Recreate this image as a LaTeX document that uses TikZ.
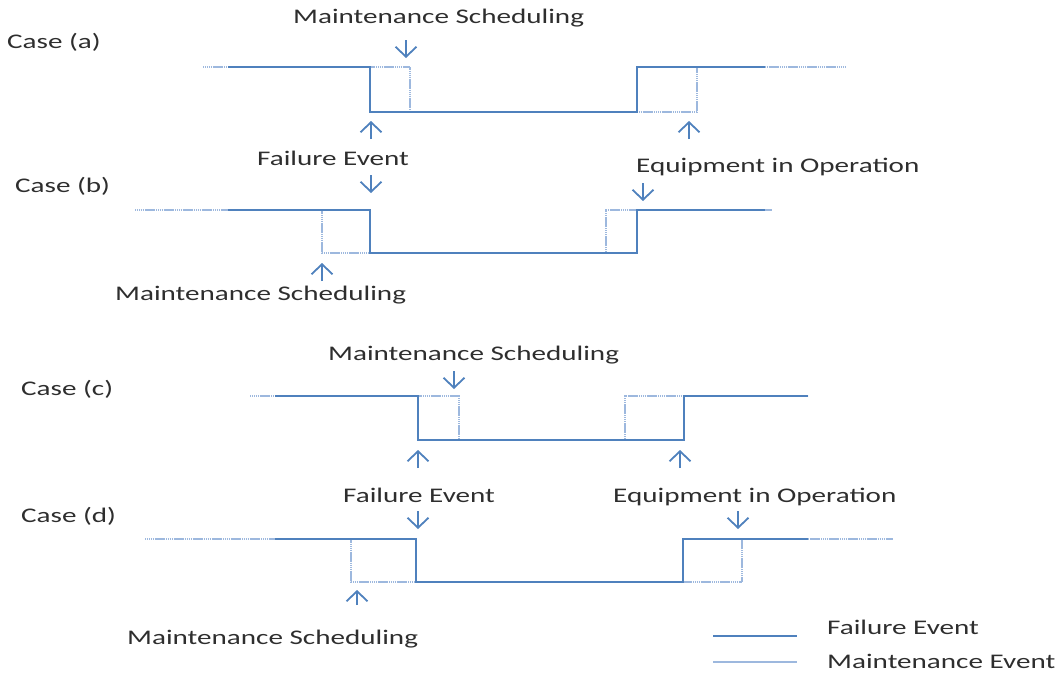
\documentclass[tikz,border=0pt]{standalone}
\usepackage{fontspec}
\setmainfont{Carlito}[FakeStretch=1.4]
\usetikzlibrary{arrows.meta}
\definecolor{failblue}{HTML}{4F81BD}
\definecolor{maintblue}{HTML}{9DB8DE}
\definecolor{txtgray}{HTML}{2E2E2E}
\tikzset{
  lbl/.style={anchor=base west, inner sep=0pt, text=txtgray,
    font=\fontsize{20.8}{24}\selectfont},
  failline/.style={draw=failblue, line width=2.6pt, line join=miter},
  maintline/.style={draw=maintblue, line width=1.9pt, dash pattern=on 1.4pt off 0.5pt},
  legmaint/.style={draw=maintblue, line width=1.9pt},
  ptr/.style={draw=failblue, line width=1.8pt,
    -{Straight Barb[length=10pt,width=21pt,line width=1.8pt]}}
}
\begin{document}
\begin{tikzpicture}[x=1pt,y=-1pt]
\useasboundingbox (0,0) rectangle (1057,675);

% ---------- Case (a) ----------
\node[lbl] (ca) at (7,48) {Case (a)};
\node[lbl] (msa) at (293,23) {Maintenance Scheduling};
\draw[maintline] (203,67) -- (410,67) -- (410,112) -- (697,112) -- (697,67) -- (845,67);
\draw[failline] (228,67) -- (370,67) -- (370,112) -- (637,112) -- (637,67) -- (765,67);
\coordinate (a1s) at (406,40); \coordinate (a1e) at (406,58);
\draw[ptr] (a1s) -- (a1e);
\coordinate (a2s) at (371,139); \coordinate (a2e) at (371,121);
\draw[ptr] (a2s) -- (a2e);
\coordinate (a3s) at (689,139); \coordinate (a3e) at (689,121);
\draw[ptr] (a3s) -- (a3e);

% labels shared by cases (a) and (b)
\node[lbl] (feab) at (257,165) {Failure Event};
\node[lbl] (eoab) at (636,172) {Equipment in Operation};
\coordinate (b1s) at (371,175); \coordinate (b1e) at (371,193);
\draw[ptr] (b1s) -- (b1e);
\coordinate (b2s) at (643,183); \coordinate (b2e) at (643,201);
\draw[ptr] (b2s) -- (b2e);

% ---------- Case (b) ----------
\node[lbl] (cb) at (15,192) {Case (b)};
\draw[maintline] (135,210) -- (322,210) -- (322,253) -- (606,253) -- (606,210) -- (772,210);
\draw[failline] (228,210) -- (370,210) -- (370,253) -- (637,253) -- (637,210) -- (765,210);
\coordinate (b3s) at (322,281); \coordinate (b3e) at (322,263);
\draw[ptr] (b3s) -- (b3e);
\node[lbl] (msb) at (115,300) {Maintenance Scheduling};

% ---------- Case (c) ----------
\node[lbl] (msc) at (328,360) {Maintenance Scheduling};
\node[lbl] (cc) at (21,395) {Case (c)};
\draw[maintline] (250,396) -- (459,396) -- (459,440) -- (625,440) -- (625,396) -- (808,396);
\draw[failline] (275,396) -- (418,396) -- (418,440) -- (684,440) -- (684,396) -- (808,396);
\coordinate (c1s) at (454,371); \coordinate (c1e) at (454,389);
\draw[ptr] (c1s) -- (c1e);
\coordinate (c2s) at (418,468); \coordinate (c2e) at (418,450);
\draw[ptr] (c2s) -- (c2e);
\coordinate (c3s) at (680,468); \coordinate (c3e) at (680,450);
\draw[ptr] (c3s) -- (c3e);

% ---------- Case (d) ----------
\node[lbl] (fed) at (343,502) {Failure Event};
\node[lbl] (eod) at (613,502) {Equipment in Operation};
\node[lbl] (cd) at (21,522) {Case (d)};
\draw[maintline] (145,539) -- (351,539) -- (351,582) -- (742,582) -- (742,539) -- (893,539);
\draw[failline] (275,539) -- (416,539) -- (416,582) -- (683,582) -- (683,539) -- (808,539);
\coordinate (d1s) at (418,511); \coordinate (d1e) at (418,529);
\draw[ptr] (d1s) -- (d1e);
\coordinate (d2s) at (738,511); \coordinate (d2e) at (738,529);
\draw[ptr] (d2s) -- (d2e);
\coordinate (d3s) at (357,605); \coordinate (d3e) at (357,590);
\draw[ptr] (d3s) -- (d3e);
\node[lbl] (msd) at (127,644) {Maintenance Scheduling};

% ---------- Legend ----------
\coordinate (lf1) at (713,636); \coordinate (lf2) at (797,636);
\draw[failline] (lf1) -- (lf2);
\node[lbl] (lfe) at (827,634) {Failure Event};
\coordinate (lm1) at (713,662); \coordinate (lm2) at (797,662);
\draw[legmaint] (lm1) -- (lm2);
\node[lbl] (lme) at (827,668) {Maintenance Event};
\end{tikzpicture}
\end{document}
